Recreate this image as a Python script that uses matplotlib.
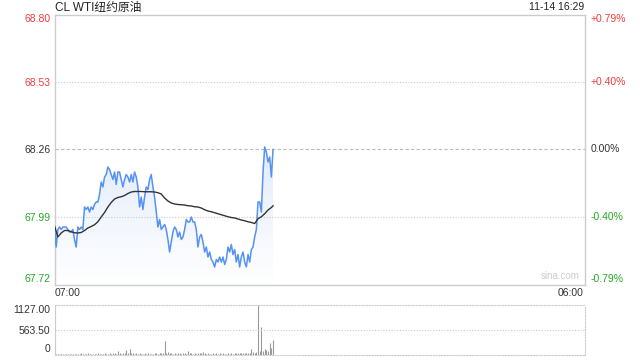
import numpy as np
import matplotlib
matplotlib.use("Agg")
import matplotlib.pyplot as plt
from matplotlib.patches import Polygon
from matplotlib.colors import LinearSegmentedColormap

plt.rcParams['font.family'] = ['Liberation Sans', 'Noto Sans CJK SC']

# 数据 (07:00 起, 到 16:29)
title = "CL WTI纽约原油"
stamp = "11-14 16:29"
prev_close = 68.26
last_minute = 569          # 16:29 - 07:00

price = [67.95, 67.87, 67.94, 67.95, 67.94, 67.95, 67.95, 67.95, 67.94, 67.93,
         67.93, 67.94, 67.90, 67.87, 67.95, 67.94, 67.95, 67.94, 68.03, 68.02,
         68.03, 68.01, 68.03, 68.02, 68.04, 68.05, 68.05, 68.08, 68.13, 68.11,
         68.15, 68.16, 68.19, 68.18, 68.16, 68.14, 68.17, 68.12, 68.17, 68.17,
         68.14, 68.11, 68.14, 68.16, 68.15, 68.13, 68.16, 68.13, 68.17, 68.15,
         68.11, 68.03, 68.07, 68.02, 68.07, 68.11, 68.10, 68.14, 68.16, 68.11,
         68.07, 68.01, 67.95, 67.98, 67.94, 67.95, 67.96, 67.94, 67.90, 67.85,
         67.89, 67.93, 67.95, 67.94, 67.91, 67.93, 67.90, 67.91, 67.94, 67.98,
         67.97, 67.97, 67.99, 67.97, 67.97, 67.94, 67.87, 67.91, 67.92, 67.89,
         67.85, 67.87, 67.83, 67.85, 67.82, 67.81, 67.79, 67.82, 67.81, 67.83,
         67.81, 67.83, 67.80, 67.82, 67.87, 67.85, 67.88, 67.84, 67.86, 67.81,
         67.84, 67.79, 67.83, 67.85, 67.81, 67.79, 67.84, 67.81, 67.86, 67.87,
         67.91, 67.94, 68.05, 68.05, 68.01, 68.17, 68.27, 68.25, 68.21, 68.23,
         68.15, 68.26]

avg_idx = list(range(0, 131, 2)) + [131]
avg_price = [67.955, 67.910, 67.926, 67.936, 67.936, 67.931, 67.927, 67.926, 67.928, 67.936,
             67.946, 67.952, 67.959, 67.971, 67.990, 68.008, 68.030, 68.048, 68.062, 68.068,
             68.071, 68.076, 68.084, 68.090, 68.092, 68.092, 68.092, 68.091, 68.091, 68.091,
             68.090, 68.087, 68.082, 68.066, 68.054, 68.046, 68.042, 68.040, 68.039, 68.038,
             68.035, 68.034, 68.031, 68.030, 68.026, 68.019, 68.014, 68.011, 68.007, 68.003,
             67.999, 67.995, 67.991, 67.988, 67.986, 67.982, 67.978, 67.975, 67.971, 67.968,
             67.964, 67.983, 67.991, 68.003, 68.018, 68.028, 68.035]

volume = [20, 15, 18, 12, 16, 20, 14, 18, 22, 15, 16, 20, 18, 14, 22, 16, 25, 18, 20, 15,
          24, 18, 16, 20, 22, 18, 25, 20, 16, 22, 28, 20, 18, 24, 20, 26, 30, 22, 80, 25,
          20, 30, 35, 100, 40, 125, 30, 25, 22, 28, 20, 24, 18, 22, 26, 20, 24, 18, 22, 20,
          25, 28, 22, 30, 35, 40, 300, 45, 60, 30, 25, 20, 28, 22, 26, 24, 20, 30, 25, 22,
          80, 28, 24, 20, 26, 22, 30, 25, 28, 50, 24, 20, 26, 22, 18, 24, 20, 26, 22, 28,
          20, 24, 18, 22, 26, 20, 24, 22, 28, 30, 26, 40, 30, 25, 32, 28, 35, 40, 125, 60,
          45, 50, 1127, 90, 628, 70, 130, 110, 70, 260, 150, 322]

y_ticks = [67.72, 67.99, 68.26, 68.53, 68.80]
y_labels = ["67.72", "67.99", "68.26", "68.53", "68.80"]
pct_labels = ["-0.79%", "-0.40%", "0.00%", "+0.40%", "+0.79%"]
vol_ticks = [0, 563.5, 1127]
vol_labels = ["0", "563.50", "1127.00"]

red = "#f03c3c"
green = "#25a825"
dark = "#333333"
blue = "#5592f2"

n = len(price)
minutes = np.linspace(0, last_minute, n)
avg_minutes = minutes[avg_idx]

fig = plt.figure(figsize=(6.4, 3.6), dpi=100)
ax = fig.add_axes([54.5 / 640, 1 - 284.5 / 360, 530 / 640, 270 / 360])
vax = fig.add_axes([54.5 / 640, 1 - 354.5 / 360, 530 / 640, 49.5 / 360])

ax.set_xlim(0, 1380)
ax.set_ylim(67.72, 68.80)

# 渐变填充
cmap = LinearSegmentedColormap.from_list("fill", ["#ffffff", "#e2ecfc"])
grad = np.linspace(0, 1, 256).reshape(-1, 1)
top = max(price)
img = ax.imshow(grad, cmap=cmap, aspect="auto", origin="lower",
                extent=[0, 1380, 67.72, top], zorder=1)
poly = Polygon(list(zip(minutes, price)) + [(minutes[-1], 67.72), (minutes[0], 67.72)],
               closed=True, facecolor="none", edgecolor="none")
ax.add_patch(poly)
img.set_clip_path(poly)

ax.plot(minutes, price, color=blue, lw=1.1, zorder=3)
ax.plot(avg_minutes, avg_price, color=dark, lw=1.0, zorder=4)

# 网格
ax.axhline(prev_close, color="#bbbbbb", lw=0.8, ls=(0, (3, 2)), zorder=2)
for v in (67.99, 68.53):
    ax.axhline(v, color="#cccccc", lw=0.8, ls=(0, (1, 1.5)), zorder=2)

for s in ax.spines.values():
    s.set_color("#cccccc")
    s.set_linewidth(1)

ax.set_xticks([])
ax.set_yticks(y_ticks)
ax.set_yticklabels(y_labels)
ax.tick_params(axis="y", length=0, pad=3, labelsize=7.5)
tick_colors = [green, green, dark, red, red]
for lab, c in zip(ax.get_yticklabels(), tick_colors):
    lab.set_color(c)
ax.get_yticklabels()[0].set_va("bottom")
ax.get_yticklabels()[-1].set_va("top")

for v, t, c in zip(y_ticks, pct_labels, tick_colors):
    va = "center"
    if v == y_ticks[0]:
        va = "bottom"
    elif v == y_ticks[-1]:
        va = "top"
    ax.text(1.011, v, t, transform=ax.get_yaxis_transform(), color=c,
            fontsize=7.5, ha="left", va=va)

fig.text(55 / 640, 1 - 7.5 / 360, title, fontsize=8.5, color="#222222",
         ha="left", va="center")
fig.text(584 / 640, 1 - 7.5 / 360, stamp, fontsize=7.5, color="#222222",
         ha="right", va="center")
ax.text(0.99, 0.012, "sina.com", transform=ax.transAxes, fontsize=7, color="#cccccc",
        ha="right", va="bottom")
fig.text(55 / 640, 1 - 292.5 / 360, "07:00", fontsize=7.5, color=dark,
         ha="left", va="center")
fig.text(584 / 640, 1 - 292.5 / 360, "06:00", fontsize=7.5, color=dark,
         ha="right", va="center")

# 成交量
vax.set_xlim(0, 1380)
vax.set_ylim(0, 1127)
vax.vlines(minutes, 0, volume, color="#999999", lw=0.8)
vax.axhline(563.5, color="#cccccc", lw=0.8, ls=(0, (1, 1.5)))
vax.set_xticks([])
vax.set_yticks(vol_ticks)
vax.set_yticklabels(vol_labels)
vax.tick_params(axis="y", length=0, pad=3, labelsize=7.5, labelcolor=dark)
vax.get_yticklabels()[0].set_va("bottom")
vax.get_yticklabels()[-1].set_va("top")
for name, s in vax.spines.items():
    s.set_color("#cccccc")
    s.set_linewidth(0.8)
    if name != "left":
        s.set_linestyle((0, (1, 1.5)))

fig.savefig("out.png", dpi=100)
